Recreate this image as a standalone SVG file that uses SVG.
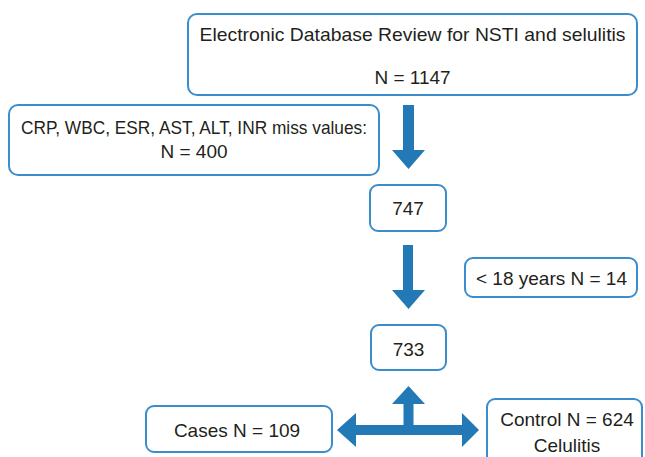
<svg xmlns="http://www.w3.org/2000/svg" width="645" height="457" viewBox="0 0 645 457">
<style>
.box{fill:#ffffff;stroke:#3b8dcb;stroke-width:2}
.t{font-family:"Liberation Sans",Arial,sans-serif;font-size:19px;fill:#231f20;text-anchor:middle}
.arr{fill:#2279b6}
</style>
<rect width="645" height="457" fill="#ffffff"/>
<g id="connectors">
<polygon class="arr" points="403,105 414,105 414,150 425,150 408.5,169 392,150 403,150"/>
<polygon class="arr" points="403,245 413,245 413,290 425,290 408.5,309 392,290 403,290"/>
<polygon class="arr" points="408.5,386 425,404 413.5,404 413.5,425 462,425 462,413 479,430 462,447 462,435 356,435 356,447 337,430 356,413 356,425 403.5,425 403.5,404 392,404"/>
</g>
<g id="n1147">
<rect class="box" x="188" y="14" width="449" height="81" rx="9"/>
<text class="t" x="412.5" y="41" textLength="426" lengthAdjust="spacingAndGlyphs">Electronic Database Review for NSTI and selulitis</text>
<text class="t" x="412.5" y="84">N = 1147</text>
</g>
<g id="missing">
<rect class="box" x="9" y="105" width="370" height="70" rx="9"/>
<text class="t" x="194" y="134" textLength="346" lengthAdjust="spacingAndGlyphs">CRP, WBC, ESR, AST, ALT, INR miss values:</text>
<text class="t" x="194" y="158">N = 400</text>
</g>
<g id="n747">
<rect class="box" x="370" y="185" width="76" height="46" rx="8"/>
<text class="t" x="408" y="215">747</text>
</g>
<g id="age">
<rect class="box" x="465" y="258" width="172" height="39" rx="8"/>
<text class="t" x="551.5" y="285">&lt; 18 years N = 14</text>
</g>
<g id="n733">
<rect class="box" x="371" y="325" width="75" height="45" rx="8"/>
<text class="t" x="408.5" y="356">733</text>
</g>
<g id="cases">
<rect class="box" x="146" y="406" width="186" height="46" rx="8"/>
<text class="t" x="237" y="437">Cases N = 109</text>
</g>
<g id="control">
<rect class="box" x="487" y="399" width="155" height="75" rx="8"/>
<text class="t" x="567" y="426">Control N = 624</text>
<text class="t" x="567" y="452">Celulitis</text>
</g>
</svg>
